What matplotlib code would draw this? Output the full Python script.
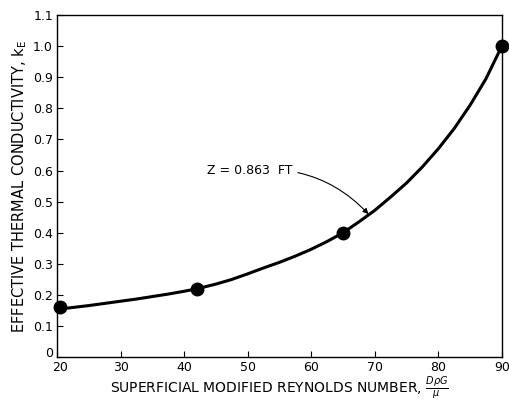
import matplotlib
matplotlib.use('Agg')
import matplotlib.pyplot as plt
import matplotlib.transforms as mtrans

# measured points
pts_x = [20.5, 42, 65, 90]
pts_y = [0.16, 0.22, 0.40, 1.00]

# curve
curve_x = [20.5, 22.5, 25, 27.5, 30, 32.5, 35, 37.5, 40, 42, 45, 47.5, 50,
           52.5, 55, 57.5, 60, 62.5, 65, 67.5, 70, 72.5, 75, 77.5, 80, 82.5,
           85, 87.5, 90]
curve_y = [0.155, 0.16, 0.166, 0.173, 0.18, 0.187, 0.195, 0.203, 0.212, 0.22,
           0.235, 0.25, 0.268, 0.287, 0.305, 0.325, 0.347, 0.372, 0.40, 0.435,
           0.472, 0.515, 0.56, 0.612, 0.67, 0.735, 0.81, 0.895, 1.00]

xticks = [20, 30, 40, 50, 60, 70, 80, 90]
yticks = [0, 0.1, 0.2, 0.3, 0.4, 0.5, 0.6, 0.7, 0.8, 0.9, 1.0, 1.1]
ytick_labels = ['0', '0.1', '0.2', '0.3', '0.4', '0.5', '0.6', '0.7', '0.8',
                '0.9', '1.0', '1.1']

plt.rcParams['font.family'] = 'DejaVu Sans'
fig = plt.figure(figsize=(5.1, 4.05), dpi=100)
ax = fig.add_axes([0.112, 0.118, 0.872, 0.845])

ax.plot(curve_x, curve_y, color='black', linewidth=2.2, clip_on=False,
        solid_joinstyle='round', solid_capstyle='round')
ax.plot(pts_x, pts_y, 'o', color='black', markersize=9, clip_on=False)

ax.set_xlim(20, 90)
ax.set_ylim(0, 1.1)
ax.set_xticks(xticks)
ax.set_yticks(yticks, ytick_labels)
ax.tick_params(direction='in', length=4, width=0.8, labelsize=9, pad=3)
for s in ax.spines.values():
    s.set_linewidth(1.0)

# nudge the corner labels apart like the original
lbl0 = ax.get_yticklabels()[0]
lbl0.set_transform(lbl0.get_transform() +
                   mtrans.ScaledTranslation(0, 5/100, fig.dpi_scale_trans))
lblx = ax.get_xticklabels()[0]
lblx.set_transform(lblx.get_transform() +
                   mtrans.ScaledTranslation(3/100, 0, fig.dpi_scale_trans))

ax.set_xlabel(r'SUPERFICIAL MODIFIED REYNOLDS NUMBER, $\frac{D\rho G}{\mu}$',
              fontsize=10, labelpad=0)
ax.set_ylabel(r'EFFECTIVE THERMAL CONDUCTIVITY, k$_\mathregular{E}$',
              fontsize=10.5, labelpad=3)

ax.annotate('Z = 0.863  FT', xy=(69.0, 0.46), xytext=(50.3, 0.6),
            fontsize=9, ha='center', va='center',
            arrowprops=dict(arrowstyle='-|>', color='black', lw=0.8,
                            mutation_scale=8, shrinkA=2, shrinkB=0,
                            connectionstyle='arc3,rad=-0.25'))

fig.savefig('out.png', dpi=100)
